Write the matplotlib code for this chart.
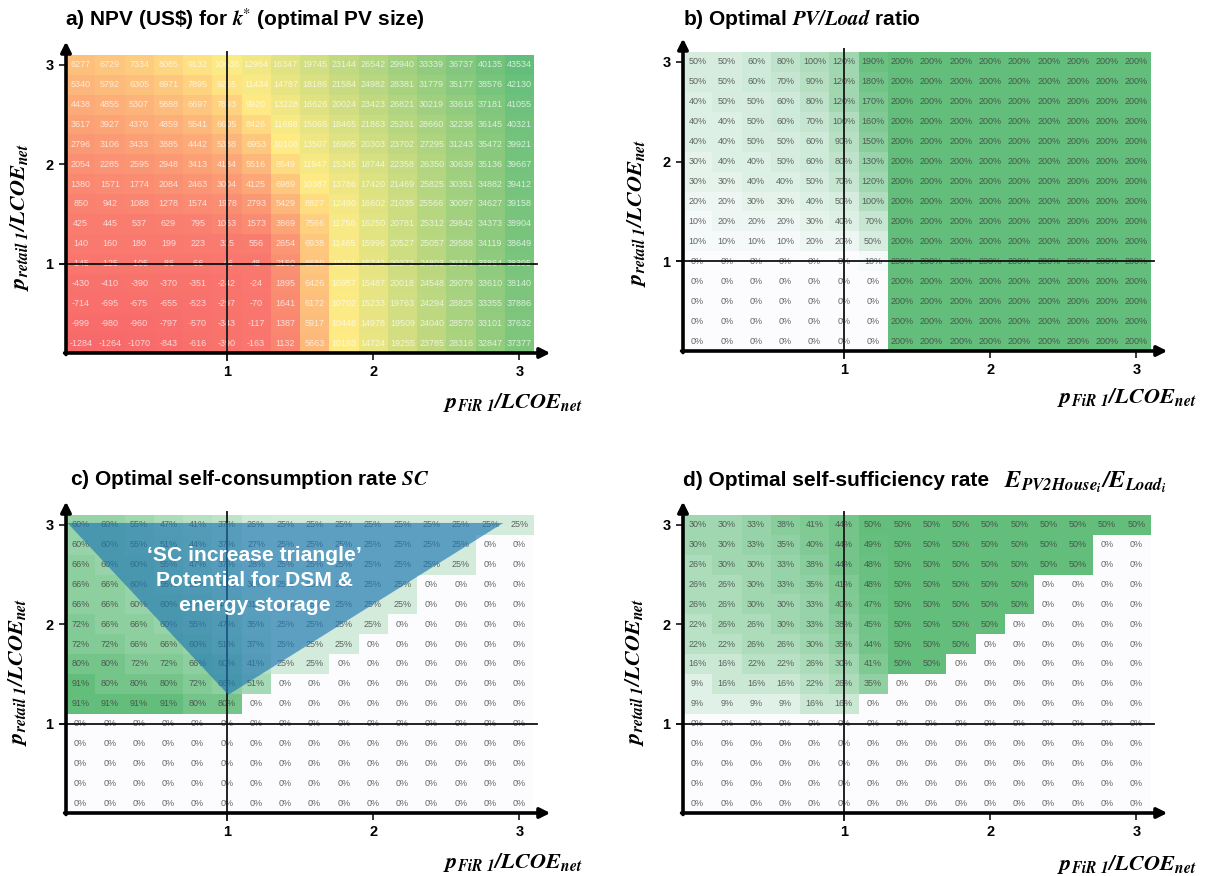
import numpy as np
import matplotlib
matplotlib.use("Agg")
import matplotlib.pyplot as plt
from matplotlib.colors import LinearSegmentedColormap, TwoSlopeNorm, Normalize

W, H = 1205, 876
plt.rcParams['font.family'] = ['Liberation Sans', 'DejaVu Sans']
plt.rcParams['mathtext.fontset'] = 'stix'

x_vals = [0.0, 0.2, 0.4, 0.6, 0.8, 1.0, 1.2, 1.4, 1.6, 1.8, 2.0, 2.2, 2.4, 2.6, 2.8, 3.0]
y_vals = [3.0, 2.8, 2.6, 2.4, 2.2, 2.0, 1.8, 1.6, 1.4, 1.2, 1.0, 0.8, 0.6, 0.4, 0.2]
ticks = [1, 2, 3]

npv = [
    [6277, 6729, 7334, 8085, 9132, 10638, 12964, 16347, 19745, 23144, 26542, 29940, 33339, 36737, 40135, 43534],
    [5340, 5792, 6305, 6971, 7895, 9265, 11434, 14787, 18186, 21584, 24982, 28381, 31779, 35177, 38576, 42130],
    [4438, 4855, 5307, 5888, 6697, 7893, 9920, 13228, 16626, 20024, 23423, 26821, 30219, 33618, 37181, 41055],
    [3617, 3927, 4370, 4859, 5541, 6605, 8426, 11668, 15066, 18465, 21863, 25261, 28660, 32238, 36145, 40321],
    [2796, 3106, 3433, 3885, 4442, 5338, 6953, 10108, 13507, 16905, 20303, 23702, 27295, 31243, 35472, 39921],
    [2054, 2285, 2595, 2948, 3413, 4134, 5516, 8549, 11947, 15345, 18744, 22358, 26350, 30639, 35136, 39667],
    [1380, 1571, 1774, 2084, 2463, 3004, 4125, 6989, 10387, 13786, 17420, 21469, 25825, 30351, 34882, 39412],
    [850, 942, 1088, 1278, 1574, 1978, 2793, 5429, 8827, 12490, 16602, 21035, 25566, 30097, 34627, 39158],
    [425, 445, 537, 629, 795, 1063, 1573, 3869, 7566, 11756, 16250, 20781, 25312, 29842, 34373, 38904],
    [140, 160, 180, 199, 223, 315, 556, 2654, 6938, 11465, 15996, 20527, 25057, 29588, 34119, 38649],
    [-145, -125, -105, -86, -66, -46, 48, 2150, 6680, 11211, 15742, 20272, 24803, 29334, 33864, 38395],
    [-430, -410, -390, -370, -351, -242, -24, 1895, 6426, 10957, 15487, 20018, 24548, 29079, 33610, 38140],
    [-714, -695, -675, -655, -523, -297, -70, 1641, 6172, 10702, 15233, 19763, 24294, 28825, 33355, 37886],
    [-999, -980, -960, -797, -570, -343, -117, 1387, 5917, 10448, 14978, 19509, 24040, 28570, 33101, 37632],
    [-1284, -1264, -1070, -843, -616, -390, -163, 1132, 5663, 10193, 14724, 19255, 23785, 28316, 32847, 37377],
]

pv_ratio = [
    [50, 50, 60, 80, 100, 120, 190, 200, 200, 200, 200, 200, 200, 200, 200, 200],
    [50, 50, 60, 70, 90, 120, 180, 200, 200, 200, 200, 200, 200, 200, 200, 200],
    [40, 50, 50, 60, 80, 120, 170, 200, 200, 200, 200, 200, 200, 200, 200, 200],
    [40, 40, 50, 60, 70, 100, 160, 200, 200, 200, 200, 200, 200, 200, 200, 200],
    [40, 40, 50, 50, 60, 90, 150, 200, 200, 200, 200, 200, 200, 200, 200, 200],
    [30, 40, 40, 50, 60, 80, 130, 200, 200, 200, 200, 200, 200, 200, 200, 200],
    [30, 30, 40, 40, 50, 70, 120, 200, 200, 200, 200, 200, 200, 200, 200, 200],
    [20, 20, 30, 30, 40, 50, 100, 200, 200, 200, 200, 200, 200, 200, 200, 200],
    [10, 20, 20, 20, 30, 40, 70, 200, 200, 200, 200, 200, 200, 200, 200, 200],
    [10, 10, 10, 10, 20, 20, 50, 200, 200, 200, 200, 200, 200, 200, 200, 200],
    [0, 0, 0, 0, 0, 0, 10, 200, 200, 200, 200, 200, 200, 200, 200, 200],
    [0, 0, 0, 0, 0, 0, 0, 200, 200, 200, 200, 200, 200, 200, 200, 200],
    [0, 0, 0, 0, 0, 0, 0, 200, 200, 200, 200, 200, 200, 200, 200, 200],
    [0, 0, 0, 0, 0, 0, 0, 200, 200, 200, 200, 200, 200, 200, 200, 200],
    [0, 0, 0, 0, 0, 0, 0, 200, 200, 200, 200, 200, 200, 200, 200, 200],
]

self_cons = [
    [60, 60, 55, 47, 41, 37, 26, 25, 25, 25, 25, 25, 25, 25, 25, 25],
    [60, 60, 55, 51, 44, 37, 27, 25, 25, 25, 25, 25, 25, 25, 0, 0],
    [66, 60, 60, 55, 47, 37, 28, 25, 25, 25, 25, 25, 25, 25, 0, 0],
    [66, 66, 60, 55, 51, 41, 30, 25, 25, 25, 25, 25, 0, 0, 0, 0],
    [66, 66, 60, 60, 55, 44, 31, 25, 25, 25, 25, 25, 0, 0, 0, 0],
    [72, 66, 66, 60, 55, 47, 35, 25, 25, 25, 25, 0, 0, 0, 0, 0],
    [72, 72, 66, 66, 60, 51, 37, 25, 25, 25, 0, 0, 0, 0, 0, 0],
    [80, 80, 72, 72, 66, 60, 41, 25, 25, 0, 0, 0, 0, 0, 0, 0],
    [91, 80, 80, 80, 72, 66, 51, 0, 0, 0, 0, 0, 0, 0, 0, 0],
    [91, 91, 91, 91, 80, 80, 0, 0, 0, 0, 0, 0, 0, 0, 0, 0],
    [0, 0, 0, 0, 0, 0, 0, 0, 0, 0, 0, 0, 0, 0, 0, 0],
    [0, 0, 0, 0, 0, 0, 0, 0, 0, 0, 0, 0, 0, 0, 0, 0],
    [0, 0, 0, 0, 0, 0, 0, 0, 0, 0, 0, 0, 0, 0, 0, 0],
    [0, 0, 0, 0, 0, 0, 0, 0, 0, 0, 0, 0, 0, 0, 0, 0],
    [0, 0, 0, 0, 0, 0, 0, 0, 0, 0, 0, 0, 0, 0, 0, 0],
]

self_suff = [
    [30, 30, 33, 38, 41, 44, 50, 50, 50, 50, 50, 50, 50, 50, 50, 50],
    [30, 30, 33, 35, 40, 44, 49, 50, 50, 50, 50, 50, 50, 50, 0, 0],
    [26, 30, 30, 33, 38, 44, 48, 50, 50, 50, 50, 50, 50, 50, 0, 0],
    [26, 26, 30, 33, 35, 41, 48, 50, 50, 50, 50, 50, 0, 0, 0, 0],
    [26, 26, 30, 30, 33, 40, 47, 50, 50, 50, 50, 50, 0, 0, 0, 0],
    [22, 26, 26, 30, 33, 38, 45, 50, 50, 50, 50, 0, 0, 0, 0, 0],
    [22, 22, 26, 26, 30, 35, 44, 50, 50, 50, 0, 0, 0, 0, 0, 0],
    [16, 16, 22, 22, 26, 30, 41, 50, 50, 0, 0, 0, 0, 0, 0, 0],
    [9, 16, 16, 16, 22, 26, 35, 0, 0, 0, 0, 0, 0, 0, 0, 0],
    [9, 9, 9, 9, 16, 16, 0, 0, 0, 0, 0, 0, 0, 0, 0, 0],
    [0, 0, 0, 0, 0, 0, 0, 0, 0, 0, 0, 0, 0, 0, 0, 0],
    [0, 0, 0, 0, 0, 0, 0, 0, 0, 0, 0, 0, 0, 0, 0, 0],
    [0, 0, 0, 0, 0, 0, 0, 0, 0, 0, 0, 0, 0, 0, 0, 0],
    [0, 0, 0, 0, 0, 0, 0, 0, 0, 0, 0, 0, 0, 0, 0, 0],
    [0, 0, 0, 0, 0, 0, 0, 0, 0, 0, 0, 0, 0, 0, 0, 0],
]

triangle_x = [-0.09, 1.01, 2.89]
triangle_y = [3.02, 1.29, 3.02]

xlabel = r"$\mathbfit{p_{FiR\ 1}/LCOE_{net}}$"
ylabel = r"$\mathbfit{p_{retail\ 1}/LCOE_{net}}$"

rdylgn = LinearSegmentedColormap.from_list('rdylgn', ['#F8696B', '#FFEB84', '#63BE7B'])
whgn = LinearSegmentedColormap.from_list('whgn', ['#FCFCFF', '#63BE7B'])

fig = plt.figure(figsize=(W / 100, H / 100), dpi=100)


def fig_xy(x, y):
    return x / W, 1 - y / H


def draw_panel(box, data, cmap, norm, fmt, txt_color, txt_alpha):
    left, top, right, bottom = box
    ax = fig.add_axes([left / W, 1 - bottom / H, (right - left) / W, (bottom - top) / H])
    ax.patch.set_alpha(0)
    ax.pcolormesh(x_vals, y_vals, np.array(data), cmap=cmap, norm=norm, shading='nearest', zorder=1)
    ax.set_xlim(-0.1, 3.1)
    ax.set_ylim(0.1, 3.1)

    for i, row in enumerate(data):
        for j, v in enumerate(row):
            ax.text(x_vals[j], y_vals[i], fmt.format(v), ha='center', va='center', fontsize=6.5,
                    color=txt_color, alpha=txt_alpha, zorder=2)

    # crosshair at 1/1
    ax.plot([1, 1], [0.03, 3.13], color='#222222', lw=1.4, clip_on=False, zorder=3)
    ax.plot([-0.14, 3.12], [1, 1], color='#111111', lw=1.3, clip_on=False, zorder=3)

    for s in ax.spines.values():
        s.set_visible(False)
    ax.set_xticks(ticks)
    ax.set_yticks(ticks)
    ax.tick_params(length=5, width=1.1, labelsize=10.5, pad=4)
    for lab in ax.get_xticklabels() + ax.get_yticklabels():
        lab.set_fontweight('bold')

    # axes are arrows, not plain spines
    arrow = dict(arrowstyle='-|>,head_width=0.3,head_length=0.6', lw=2.6, color='black', shrinkA=0, shrinkB=0)
    ax.annotate('', xy=(1.035, 0), xytext=(-0.003, 0), xycoords='axes fraction',
                textcoords='axes fraction', arrowprops=arrow, annotation_clip=False, zorder=6)
    ax.annotate('', xy=(0, 1.045), xytext=(0, -0.005), xycoords='axes fraction',
                textcoords='axes fraction', arrowprops=arrow, annotation_clip=False, zorder=6)
    return ax


ax_a = draw_panel((66, 55, 534, 353), npv, rdylgn,
                  TwoSlopeNorm(vmin=np.min(npv), vcenter=np.percentile(npv, 50), vmax=np.max(npv)),
                  '{}', 'white', 0.72)
ax_b = draw_panel((683, 52, 1151, 351), pv_ratio, whgn, Normalize(0, 200), '{}%', '#404040', 0.8)
ax_c = draw_panel((66, 515, 534, 813), self_cons, whgn, Normalize(0, 91), '{}%', '#404040', 0.8)
ax_d = draw_panel((683, 515, 1151, 813), self_suff, whgn, Normalize(0, 50), '{}%', '#404040', 0.8)

ax_c.fill(triangle_x, triangle_y, color='#1F77B4', alpha=0.65, lw=0, zorder=4)
ax_c.text(1.19, 2.44, "‘SC increase triangle’\nPotential for DSM &\nenergy storage", color='white',
          fontsize=15.2, fontweight='bold', ha='center', va='center', linespacing=1.4, zorder=5)

titles = [
    (65, 19, r"a) NPV (US\$) for $\mathbfit{k}^{*}$ (optimal PV size)"),
    (683, 19, r"b) Optimal $\mathbfit{PV/Load}$ ratio"),
    (70, 479, r"c) Optimal self-consumption rate $\mathbfit{SC}$"),
    (683, 481, r"d) Optimal self-sufficiency rate"),
]
for x, y, s in titles:
    fx, fy = fig_xy(x, y)
    fig.text(fx, fy, s, fontsize=15, fontweight='bold', ha='left', va='center')

# this one has long subscripts, it runs wider than the title text
fx, fy = fig_xy(1004, 482)
fig.text(fx, fy, r"$\mathbfit{E_{PV2House_{i}}/E_{Load_{i}}}$", fontsize=17.5, ha='left', va='center')

for x, y in [(513, 402), (1127, 397), (513, 862), (1127, 865)]:
    fx, fy = fig_xy(x, y)
    fig.text(fx, fy, xlabel, fontsize=16, ha='center', va='center')

for x, y in [(20, 217), (637, 213), (18, 672), (635, 672)]:
    fx, fy = fig_xy(x, y)
    fig.text(fx, fy, ylabel, fontsize=16, rotation=90, ha='center', va='center')

fig.savefig('out.png', dpi=100, facecolor='white')
